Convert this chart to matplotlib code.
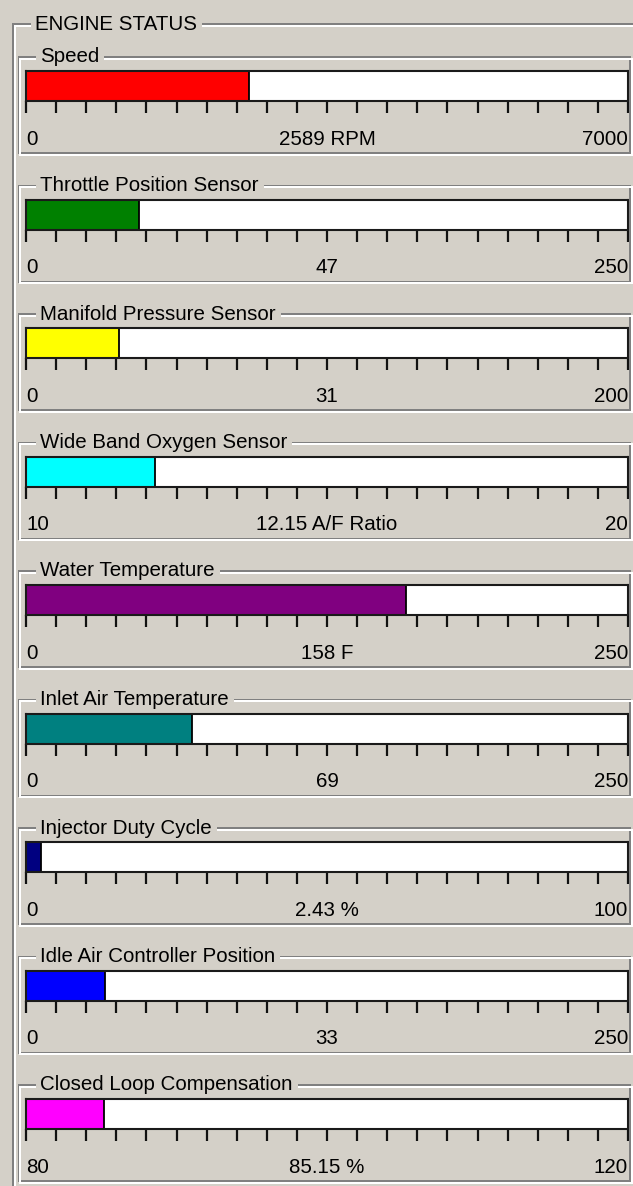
import matplotlib
matplotlib.use('Agg')
import matplotlib.pyplot as plt
from matplotlib.lines import Line2D
import numpy as np

# gauge data
names = ['Speed', 'Throttle Position Sensor', 'Manifold Pressure Sensor',
         'Wide Band Oxygen Sensor', 'Water Temperature', 'Inlet Air Temperature',
         'Injector Duty Cycle', 'Idle Air Controller Position', 'Closed Loop Compensation']
values = [2589, 47, 31, 12.15, 158, 69, 2.43, 33, 85.15]
lows = [0, 0, 0, 10, 0, 0, 0, 0, 80]
highs = [7000, 250, 200, 20, 250, 250, 100, 250, 120]
units = ['RPM', '', '', 'A/F Ratio', 'F', '', '%', '', '%']
colors = ['#FF0000', '#008000', '#FFFF00', '#00FFFF', '#800080',
          '#008080', '#000080', '#0000FF', '#FF00FF']

W, H = 633, 1186
bg = '#D4D0C8'
font = ['Liberation Sans', 'DejaVu Sans']
fs = 14.8

fig = plt.figure(figsize=(W / 100, H / 100), dpi=100, facecolor=bg)


def fx(x):
    return x / W


def fy(y):
    return 1 - y / H


def hline(x0, x1, y, c):
    fig.add_artist(Line2D([fx(x0), fx(x1)], [fy(y), fy(y)], color=c, lw=1.1,
                          antialiased=False, transform=fig.transFigure, zorder=1))


def vline(x, y0, y1, c):
    fig.add_artist(Line2D([fx(x), fx(x)], [fy(y0), fy(y1)], color=c, lw=1.1,
                          antialiased=False, transform=fig.transFigure, zorder=1))


renderer = fig.canvas.get_renderer()


def group_box(left, top, right, bottom, title, tx):
    t = fig.text(fx(tx), fy(top), title, ha='left', va='center', fontsize=fs,
                 family=font, color='#000000', zorder=3)
    bb = t.get_window_extent(renderer)
    gap0 = bb.x0 - 5
    gap1 = bb.x1 + 6
    for off, c in [(0, '#808080'), (1.5, '#FFFFFF')]:
        hline(left + off, gap0, top + off, c)
        hline(gap1, right + off, top + off, c)
        hline(left + off, right + off, bottom + off, c)
        vline(left + off, top + off, bottom + off, c)
        vline(right + off, top + off, bottom + off, c)


# outer group box
group_box(13, 24, 645, 1200, 'ENGINE STATUS', 35)

step = 128.5
for i in range(len(names)):
    ty = 57 + i * step
    group_box(19, ty, 630, ty + 96, names[i], 40)

    ax = fig.add_axes([fx(26), fy(ty + 44), (628 - 26) / W, 30 / H])
    ax.set_facecolor('white')
    ax.barh(0, values[i] - lows[i], left=lows[i], height=1, color=colors[i],
            edgecolor='black', linewidth=1.3)
    ax.set_xlim(lows[i], highs[i])
    ax.set_ylim(-0.5, 0.5)
    ax.set_yticks([])
    ax.set_xticks(np.linspace(lows[i], highs[i], 21))
    ax.tick_params(axis='x', direction='out', length=8.5, width=1.6,
                   color='#111111', labelbottom=False)
    for s in ax.spines.values():
        s.set_linewidth(1.5)
        s.set_color('#1a1a1a')

    trans = ax.get_xaxis_transform()
    center = f"{values[i]:g} {units[i]}".strip()
    ax.text(lows[i], -1.28, f"{lows[i]:g}", transform=trans, ha='left',
            va='center', fontsize=fs, family=font)
    ax.text((lows[i] + highs[i]) / 2, -1.28, center, transform=trans,
            ha='center', va='center', fontsize=fs, family=font)
    ax.text(highs[i], -1.28, f"{highs[i]:g}", transform=trans, ha='right',
            va='center', fontsize=fs, family=font)

fig.savefig('out.png', dpi=100, facecolor=bg)
